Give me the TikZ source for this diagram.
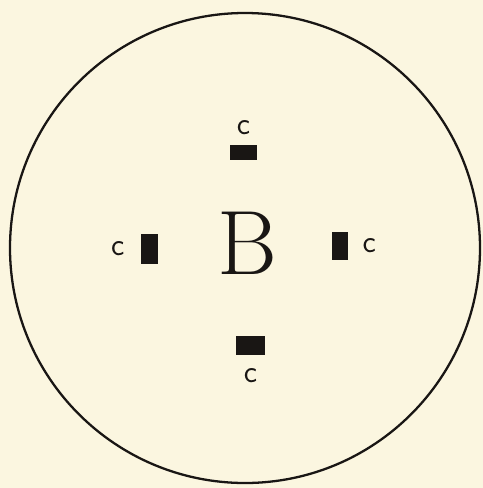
\documentclass[tikz,border=0pt]{standalone}
\usepackage{tikz}
\usetikzlibrary{positioning}
\definecolor{paper}{RGB}{251,246,224}
\definecolor{ink}{RGB}{25,22,20}

\begin{document}
\begin{tikzpicture}[x=0.02cm, y=-0.02cm]
    \tikzset{
        block/.style={draw=none, fill=ink, inner sep=0pt},
        clabel/.style={inner sep=0pt, text=ink, font=\sffamily\fontsize{18}{18}\selectfont},
        biglabel/.style={inner sep=0pt, text=ink, font=\fontsize{52}{52}\selectfont}
    }
    % background and outline
    \fill[paper] (0,0) rectangle (483,488);
    \useasboundingbox (0,0) rectangle (483,488);
    \draw[ink, line width=1.3pt] (245,248) circle (235);

    % centre letter
    \node[biglabel] (b) at (247,243) {B};

    % the four blocks
    \node[block, minimum width=0.54cm, minimum height=0.30cm] (top) at (243.5,152.5) {};
    \node[block, minimum width=0.34cm, minimum height=0.60cm] (left) at (149.5,249) {};
    \node[block, minimum width=0.32cm, minimum height=0.56cm] (right) at (340,246) {};
    \node[block, minimum width=0.58cm, minimum height=0.38cm] (bottom) at (250.5,345.5) {};

    % labels
    \node[clabel, above=0.2cm of top] (ctop) {c};
    \node[clabel, left=0.32cm of left] (cleft) {c};
    \node[clabel, right=0.28cm of right] (cright) {c};
    \node[clabel, below=0.26cm of bottom] (cbottom) {c};
\end{tikzpicture}
\end{document}
